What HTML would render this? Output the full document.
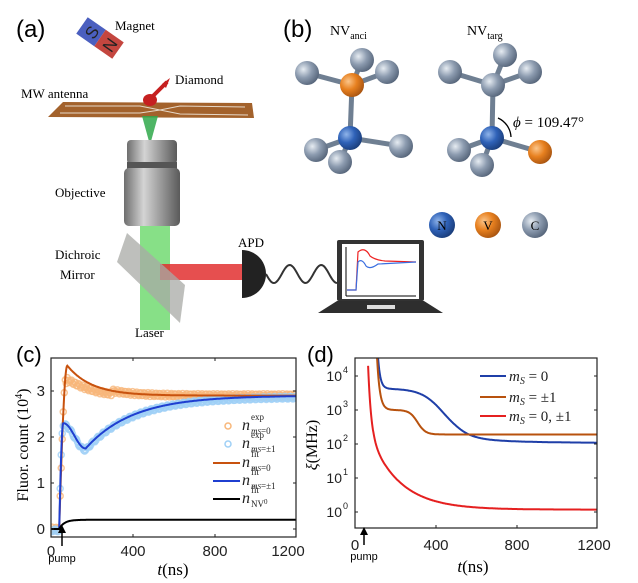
<!DOCTYPE html>
<html><head><meta charset="utf-8"><style>
html,body{margin:0;padding:0;background:#fff;}
svg{display:block;}
.s{font-family:"Liberation Sans",sans-serif;}
.r{font-family:"Liberation Serif",serif;}
</style></head><body>
<svg id="sv" width="638" height="583" viewBox="0 0 638 583" xmlns="http://www.w3.org/2000/svg">
<defs>
<radialGradient id="gC" cx="0.35" cy="0.35" r="0.7"><stop offset="0" stop-color="#e6ecf2"/><stop offset="0.5" stop-color="#8d9cb0"/><stop offset="1" stop-color="#56657a"/></radialGradient>
<radialGradient id="gN" cx="0.35" cy="0.35" r="0.7"><stop offset="0" stop-color="#8fb4ea"/><stop offset="0.5" stop-color="#2f62b8"/><stop offset="1" stop-color="#1a3d7a"/></radialGradient>
<radialGradient id="gV" cx="0.35" cy="0.35" r="0.7"><stop offset="0" stop-color="#fbc58a"/><stop offset="0.5" stop-color="#e7801f"/><stop offset="1" stop-color="#a85410"/></radialGradient>
<linearGradient id="gO" x1="0" x2="1"><stop offset="0" stop-color="#6e6e6e"/><stop offset="0.35" stop-color="#d4d4d4"/><stop offset="0.6" stop-color="#a5a5a5"/><stop offset="1" stop-color="#5a5a5a"/></linearGradient>
<clipPath id="cc"><rect x="51" y="358" width="245" height="180"/></clipPath>
<clipPath id="cd"><rect x="355" y="358" width="242" height="170"/></clipPath>
</defs>

<!-- Panel a -->
<text x="16" y="37" class="s" font-size="24">(a)</text>
<g transform="rotate(35 100 38)">
<rect x="78" y="28" width="22" height="20" fill="#4b5fbf"/><rect x="100" y="28" width="22" height="20" fill="#c4463f"/>
<text x="89" y="45" class="s" font-size="17" fill="#222" text-anchor="middle" transform="rotate(-90 89 38)">S</text>
<text x="111" y="45" class="s" font-size="17" fill="#222" text-anchor="middle" transform="rotate(-90 111 38)">N</text>
</g>
<text x="115" y="30" class="r" font-size="13">Magnet</text>
<text x="175" y="84" class="r" font-size="13">Diamond</text>
<text x="21" y="98" class="r" font-size="13">MW antenna</text>
<polygon points="63,102 252,103 254,118 48,117" fill="#a3622c"/>
<path d="M65,106 L140,106 L160,110 L180,106 L245,107 M60,113 L140,113 L160,110 L180,114 L248,115" stroke="#e6d8c8" stroke-width="1" fill="none"/>
<polygon points="142,116 158,116 150,145" fill="#2fa84a" opacity="0.85"/>
<ellipse cx="150" cy="100" rx="7" ry="6" fill="#c62020"/><path d="M153,96 L167,82" stroke="#c62020" stroke-width="4"/><polygon points="162,84 170,78 166,88" fill="#c62020"/>
<rect x="127" y="140" width="50" height="24" rx="4" fill="url(#gO)"/>
<rect x="127" y="162" width="50" height="8" fill="#555"/>
<rect x="124" y="168" width="56" height="58" rx="5" fill="url(#gO)"/>
<rect x="140" y="226" width="30" height="104" fill="#5fd65f" opacity="0.75"/>
<rect x="160" y="264" width="82" height="16" fill="#e23030" opacity="0.85"/>
<polygon points="117,262 127,233 185,285 180,323" fill="#a8aaa5" opacity="0.75"/>
<text x="55" y="197" class="r" font-size="13">Objective</text>
<text x="55" y="259" class="r" font-size="13">Dichroic</text>
<text x="60" y="279" class="r" font-size="13">Mirror</text>
<text x="135" y="337" class="r" font-size="13">Laser</text>
<text x="238" y="247" class="r" font-size="13">APD</text>
<path d="M242,250 A24,24 0 0 1 242,298 Z" fill="#222"/>
<path id="wire" d="" stroke="#333" stroke-width="2" fill="none"/>
<rect x="337" y="240" width="87" height="61" rx="2" fill="#333"/>
<rect x="342" y="244" width="77" height="55" fill="#fff"/>
<path d="M318,313 L337,301 L424,301 L443,313 Z" fill="#2e2e2e"/>
<rect x="367" y="305" width="28" height="4" fill="#ddd"/>
<path d="M346,296 V247 M346,296 H416" stroke="#000" stroke-width="1" fill="none"/>
<path d="M347,290 L356,290 L358,252 Q365,246 370,256 Q375,260 385,261 L416,262" stroke="#e22" stroke-width="1.2" fill="none"/>
<path d="M347,290 L356,290 L358,262 Q362,258 366,266 Q370,270 378,264 L416,262" stroke="#3a6ee0" stroke-width="1.2" fill="none"/>

<!-- Panel b -->
<text x="283" y="37" class="s" font-size="24">(b)</text>
<text x="330" y="35" class="r" font-size="14">NV<tspan font-size="10" dy="4">anci</tspan></text>
<text x="467" y="35" class="r" font-size="14">NV<tspan font-size="10" dy="4">targ</tspan></text>
<g stroke="#6f7f92" stroke-width="5" stroke-linecap="round">
<path d="M352,85 L307,73 M352,85 L362,60 M352,85 L387,72 M352,85 L350,138 M350,138 L316,150 M350,138 L340,162 M350,138 L401,146"/>
<path d="M493,85 L450,72 M493,85 L505,55 M493,85 L530,72 M493,85 L492,138 M492,138 L459,150 M492,138 L482,165 M492,138 L540,152"/>
</g>
<g fill="url(#gC)">
<circle cx="362" cy="60" r="12"/><circle cx="307" cy="73" r="12"/><circle cx="387" cy="72" r="12"/>
<circle cx="316" cy="150" r="12"/><circle cx="401" cy="146" r="12"/><circle cx="340" cy="162" r="12"/>
<circle cx="505" cy="55" r="12"/><circle cx="450" cy="72" r="12"/><circle cx="530" cy="72" r="12"/><circle cx="493" cy="85" r="12"/>
<circle cx="459" cy="150" r="12"/><circle cx="482" cy="165" r="12"/>
</g>
<circle cx="352" cy="85" r="12" fill="url(#gV)"/>
<circle cx="350" cy="138" r="12" fill="url(#gN)"/>
<circle cx="492" cy="138" r="12" fill="url(#gN)"/>
<circle cx="540" cy="152" r="12" fill="url(#gV)"/>
<path d="M498,118 A22,22 0 0 1 511,137" stroke="#000" stroke-width="1.3" fill="none"/>
<text x="513" y="127" class="r" font-size="15"><tspan font-style="italic">ϕ</tspan> = 109.47°</text>
<circle cx="442" cy="225" r="13" fill="url(#gN)"/><circle cx="488" cy="225" r="13" fill="url(#gV)"/><circle cx="535" cy="225" r="13" fill="url(#gC)"/>
<text x="442" y="230" class="r" font-size="13" text-anchor="middle">N</text>
<text x="488" y="230" class="r" font-size="13" text-anchor="middle">V</text>
<text x="535" y="230" class="r" font-size="13" text-anchor="middle">C</text>

<!-- Panel c -->
<text x="16" y="362" class="s" font-size="22">(c)</text>
<g id="cdata" clip-path="url(#cc)"></g>
<rect x="51" y="358" width="245" height="179" fill="none" stroke="#222" stroke-width="1.2"/>
<g stroke="#222" stroke-width="1">
<path d="M51,529 h3 M51,483 h3 M51,437 h3 M51,391 h3 M296,529 h-3 M296,483 h-3 M296,437 h-3 M296,391 h-3 M133,537 v-3 M215,537 v-3 M133,358 v3 M215,358 v3"/>
</g>
<g class="s" font-size="15" fill="#222" text-anchor="end">
<text x="45" y="534">0</text><text x="45" y="488">1</text><text x="45" y="442">2</text><text x="45" y="396">3</text></g>
<g class="s" font-size="15" fill="#222" text-anchor="middle">
<text x="51" y="556">0</text><text x="133" y="556">400</text><text x="215" y="556">800</text><text x="288" y="556">1200</text></g>
<text x="173" y="575" class="r" font-size="17" text-anchor="middle"><tspan font-style="italic">t</tspan>(ns)</text>
<text transform="translate(28 445) rotate(-90)" class="r" font-size="16" text-anchor="middle">Fluor. count (10<tspan font-size="10" dy="-6">4</tspan><tspan dy="6">)</tspan></text>
<path d="M62,546 V530" stroke="#000" stroke-width="1.5"/><polygon points="58,533 62,525 66,533" fill="#000"/>
<text x="62" y="562" class="s" font-size="11" text-anchor="middle">pump</text>
<circle cx="228" cy="426" r="3" fill="none" stroke="#f8b77a" stroke-width="1.5"/>
<circle cx="228" cy="444" r="3" fill="none" stroke="#9fd0f6" stroke-width="1.5"/>
<path d="M213,463 H240" stroke="#c8520e" stroke-width="2"/>
<path d="M213,481 H240" stroke="#1f3fd0" stroke-width="2"/>
<path d="M213,499 H240" stroke="#000" stroke-width="2"/>
<g class="r" fill="#222">
<text x="242" y="430" font-size="16" font-style="italic">n</text><text x="251" y="420" font-size="9">exp</text><text x="251" y="434" font-size="9"><tspan font-style="italic">m</tspan><tspan font-size="7" font-style="italic">S</tspan>=0</text>
<text x="242" y="448" font-size="16" font-style="italic">n</text><text x="251" y="438" font-size="9">exp</text><text x="251" y="452" font-size="9"><tspan font-style="italic">m</tspan><tspan font-size="7" font-style="italic">S</tspan>=±1</text>
<text x="242" y="467" font-size="16" font-style="italic">n</text><text x="251" y="457" font-size="9">fit</text><text x="251" y="471" font-size="9"><tspan font-style="italic">m</tspan><tspan font-size="7" font-style="italic">S</tspan>=0</text>
<text x="242" y="485" font-size="16" font-style="italic">n</text><text x="251" y="475" font-size="9">fit</text><text x="251" y="489" font-size="9"><tspan font-style="italic">m</tspan><tspan font-size="7" font-style="italic">S</tspan>=±1</text>
<text x="242" y="503" font-size="16" font-style="italic">n</text><text x="251" y="493" font-size="9">fit</text><text x="251" y="507" font-size="9">NV<tspan font-size="7" dy="-3">0</tspan></text>
</g>

<!-- Panel d -->
<text x="307" y="362" class="s" font-size="22">(d)</text>
<g id="ddata" clip-path="url(#cd)"></g>
<rect x="355" y="358" width="242" height="170" fill="none" stroke="#222" stroke-width="1.2"/>
<g stroke="#222" stroke-width="1">
<path d="M355,376 h3 M355,410 h3 M355,444 h3 M355,478 h3 M355,512 h3 M597,376 h-3 M597,410 h-3 M597,444 h-3 M597,478 h-3 M597,512 h-3 M436,528 v-3 M517,528 v-3"/>
</g>
<g class="s" font-size="14" fill="#222" text-anchor="end">
<text x="342" y="381">10</text><text x="342" y="415">10</text><text x="342" y="449">10</text><text x="342" y="483">10</text><text x="342" y="517">10</text></g>
<g class="s" font-size="9" fill="#222">
<text x="343" y="373">4</text><text x="343" y="407">3</text><text x="343" y="441">2</text><text x="343" y="475">1</text><text x="343" y="509">0</text></g>
<g class="s" font-size="15" fill="#222" text-anchor="middle">
<text x="355" y="550">0</text><text x="436" y="550">400</text><text x="517" y="550">800</text><text x="594" y="550">1200</text></g>
<text x="473" y="572" class="r" font-size="17" text-anchor="middle"><tspan font-style="italic">t</tspan>(ns)</text>
<text transform="translate(317 445) rotate(-90)" class="r" font-size="16" text-anchor="middle"><tspan font-style="italic">ξ</tspan>(MHz)</text>
<path d="M364,545 V532" stroke="#000" stroke-width="1.5"/><polygon points="360,535 364,527 368,535" fill="#000"/>
<text x="364" y="560" class="s" font-size="11" text-anchor="middle">pump</text>
<path d="M480,376 H506" stroke="#1f3fa8" stroke-width="2"/>
<path d="M480,397 H506" stroke="#b8520e" stroke-width="2"/>
<path d="M480,416 H506" stroke="#e52020" stroke-width="2"/>
<g class="r" font-size="15" fill="#222">
<text x="509" y="381"><tspan font-style="italic">m</tspan><tspan font-size="10" font-style="italic" dy="3">S</tspan><tspan dy="-3"> = 0</tspan></text>
<text x="509" y="402"><tspan font-style="italic">m</tspan><tspan font-size="10" font-style="italic" dy="3">S</tspan><tspan dy="-3"> = ±1</tspan></text>
<text x="509" y="421"><tspan font-style="italic">m</tspan><tspan font-size="10" font-style="italic" dy="3">S</tspan><tspan dy="-3"> = 0, ±1</tspan></text>
</g>
</svg>
<script>
var NS="http://www.w3.org/2000/svg";
function el(p,t,a){var e=document.createElementNS(NS,t);for(var k in a)e.setAttribute(k,a[k]);p.appendChild(e);return e;}
var d="M266,274";for(var x=266;x<=337;x+=1){d+=" L"+x+","+(274+9*Math.sin((x-266)/71*Math.PI*4.5)).toFixed(1);}
document.getElementById("wire").setAttribute("d",d);
var C=document.getElementById("cdata");
function X(t){return 51+t*245/1200;}function Y(v){return 529-46*v;}
function fo(t){if(t<40)return 0;if(t<80)return 3.55*Math.sin((t-40)/40*Math.PI/2);return 2.9+0.65*Math.exp(-(t-80)/120);}
function fb(t){if(t<40)return 0;if(t<60)return 2.3*Math.sin((t-40)/20*Math.PI/2);if(t<170)return 1.75+0.55*(1+Math.cos((t-60)/110*Math.PI))/2;return 2.9-1.15*Math.exp(-(t-170)/230);}
function fk(t){return t<40?0:0.2*(1-Math.exp(-(t-40)/25));}
function eo(t){var v=fo(t);if(t>70&&t<300)v-=0.25*Math.exp(-(t-80)/90)+0.05;return v;}
for(var t=0;t<=1200;t+=5){var n=Math.sin(t*12.9)*0.04;el(C,"circle",{cx:X(t),cy:Y(eo(t)+n),r:3,fill:"none",stroke:"#f8b77a","stroke-width":1.5,opacity:0.8});}
for(var t=0;t<=1200;t+=5){var n=Math.sin(t*7.3)*0.03;el(C,"circle",{cx:X(t),cy:Y(fb(t)-0.03+n),r:3,fill:"none",stroke:"#9fd0f6","stroke-width":1.5,opacity:0.8});}
function line(f,col,g,X,Y){var s="";for(var t=0;t<=1200;t+=2){s+=(s?" L":"M")+X(t).toFixed(1)+","+Y(f(t)).toFixed(1);}el(g,"path",{d:s,stroke:col,"stroke-width":2,fill:"none"});}
line(fo,"#c8520e",C,X,Y);line(fb,"#1f3fd0",C,X,Y);line(fk,"#000",C,X,Y);
var D=document.getElementById("ddata");
function XD(t){return 355+t*242/1200;}function YD(L){return 512-34*L;}
function blue(t){return 2.03+0.15*Math.exp(-Math.max(0,t-500)/250)+1.45/(1+Math.exp((t-440)/55))+3*Math.exp(-(t-100)/12);}
function orng(t){return 2.28+0.72/(1+Math.exp((t-310)/20))+3*Math.exp(-(t-100)/14);}
function red(t){return 0.07+1.93*Math.exp(-(t-65)/15)+2.3*Math.exp(-(t-65)/150);}
function lineD(f,col,t0){var s="";for(var t=t0;t<=1200;t+=2){s+=(s?" L":"M")+XD(t).toFixed(1)+","+YD(f(t)).toFixed(1);}el(D,"path",{d:s,stroke:col,"stroke-width":2,fill:"none"});}
lineD(blue,"#1f3fa8",90);lineD(orng,"#b8520e",90);lineD(red,"#e52020",65);
</script>
</body></html>
